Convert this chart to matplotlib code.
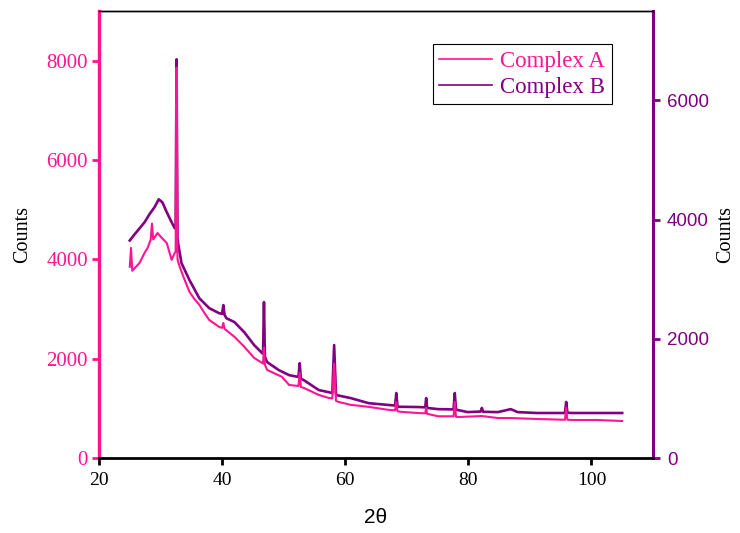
import numpy as np
import matplotlib.pyplot as plt

# Complex A (left axis)
two_theta_a = [25.0, 25.2, 25.4, 26.0, 26.6, 27.4, 27.9, 28.4, 28.6, 28.8,
               29.5, 30.2, 31.0, 31.8, 32.3, 32.45, 32.6, 32.75, 32.9, 33.4,
               33.9, 34.7, 35.5, 36.3, 37.1, 37.9, 39.5, 40.0, 40.2, 40.4,
               42.0, 43.6, 45.2, 46.5, 46.65, 46.8, 46.95, 47.3, 49.7, 50.9,
               52.4, 52.6, 52.8, 53.3, 55.7, 57.3, 57.9, 58.2, 58.5, 58.9,
               60.9, 63.8, 67.0, 68.1, 68.3, 68.5, 69.0, 71.9, 73.0, 73.15,
               73.3, 75.1, 77.6, 77.8, 78.0, 78.3, 82.2, 84.8, 86.9, 91.2,
               95.7, 95.9, 96.1, 96.9, 100.9, 105.0]
counts_a = [3850, 4230, 3770, 3850, 3930, 4130, 4230, 4400, 4720, 4400,
            4530, 4430, 4330, 3990, 4130, 4150, 7860, 4000, 3930, 3750,
            3590, 3345, 3200, 3085, 2925, 2780, 2640, 2620, 2720, 2600,
            2440, 2240, 2015, 1915, 1900, 2220, 1880, 1775, 1635, 1470,
            1450, 1715, 1430, 1410, 1270, 1210, 1200, 1900, 1150, 1130,
            1070, 1030, 970, 960, 1130, 940, 930, 905, 900, 1010,
            890, 840, 840, 1130, 830, 825, 845, 805, 805, 785,
            770, 1010, 770, 765, 765, 745]

# Complex B (right axis)
two_theta_b = [25.0, 25.8, 26.6, 27.4, 28.2, 29.0, 29.7, 30.3, 31.0, 31.8,
               32.3, 32.45, 32.6, 32.75, 32.9, 33.4, 34.7, 36.3, 37.9, 39.5,
               40.0, 40.2, 40.4, 40.7, 42.0, 43.6, 45.2, 46.5, 46.65, 46.8,
               46.95, 47.3, 49.2, 50.9, 52.4, 52.6, 52.8, 53.3, 55.7, 57.3,
               57.9, 58.2, 58.5, 58.6, 60.9, 63.8, 67.0, 68.1, 68.3, 68.5,
               71.9, 73.0, 73.15, 73.3, 75.1, 77.6, 77.8, 78.0, 78.3, 79.9,
               82.0, 82.2, 82.4, 84.8, 86.9, 88.0, 91.2, 95.7, 95.9, 96.1,
               96.9, 100.9, 105.0]
counts_b = [3650, 3755, 3855, 3955, 4090, 4205, 4340, 4290, 4125, 3955,
            3855, 3850, 6690, 3700, 3570, 3270, 2985, 2680, 2515, 2430,
            2420, 2565, 2400, 2345, 2280, 2110, 1895, 1760, 1750, 2615,
            1700, 1610, 1475, 1390, 1360, 1590, 1330, 1305, 1140, 1105,
            1090, 1895, 1070, 1055, 1005, 920, 890, 880, 1090, 860,
            855, 850, 1005, 840, 820, 815, 1090, 810, 805, 770,
            780, 840, 775, 770, 820, 770, 755, 755, 940, 760,
            755, 755, 755]

pink = '#ff1493'
purple = '#800080'
serif = 'Liberation Serif'
sans = 'Liberation Sans'

fig = plt.figure(figsize=(7.4, 5.33), dpi=100)
ax = fig.add_axes([0.1338, 0.1407, 0.7486, 0.8387])
ax2 = ax.twinx()

l1, = ax.plot(two_theta_a, counts_a, color=pink, lw=1.5, label='Complex A')
l2, = ax2.plot(two_theta_b, counts_b, color=purple, lw=1.9, label='Complex B')

ax.set_xlim(20, 110)
ax.set_ylim(0, 9000)
ax2.set_ylim(0, 7500)

ax.set_xticks([20, 40, 60, 80, 100])
ax.set_yticks([0, 2000, 4000, 6000, 8000])
ax2.set_yticks([0, 2000, 4000, 6000])

for lab in ax.get_xticklabels():
    lab.set_fontfamily(serif)
    lab.set_fontsize(14)
for lab in ax.get_yticklabels():
    lab.set_fontfamily(serif)
    lab.set_fontsize(15)
    lab.set_color(pink)
for lab in ax2.get_yticklabels():
    lab.set_fontfamily(sans)
    lab.set_fontsize(13.5)
    lab.set_color(purple)

ax.tick_params(axis='x', direction='out', length=5, width=2, colors='black', pad=5)
ax.tick_params(axis='y', direction='out', length=5, width=2, colors=pink, pad=3)
ax2.tick_params(axis='y', direction='out', length=5, width=2, colors=purple, pad=5)

ax.spines['left'].set_color(pink)
ax.spines['left'].set_linewidth(2.4)
ax.spines['bottom'].set_linewidth(2)
ax.spines['top'].set_linewidth(1)
ax.spines['right'].set_visible(False)
ax2.spines['right'].set_color(purple)
ax2.spines['right'].set_linewidth(2.2)
ax2.spines['left'].set_visible(False)
ax2.spines['bottom'].set_visible(False)
ax2.spines['top'].set_linewidth(1)

ax.set_xlabel('2θ', family=sans, fontsize=15, labelpad=14)
ax.set_ylabel('Counts', family=serif, fontsize=14.5, labelpad=10)
ax2.set_ylabel('Counts', family=serif, fontsize=14.5, labelpad=5)

leg = ax.legend([l1, l2], ['Complex A', 'Complex B'], loc='upper right',
                bbox_to_anchor=(0.926, 0.926), borderaxespad=0,
                prop={'family': serif, 'size': 16.5}, fancybox=False,
                edgecolor='black', handlelength=2.3, handletextpad=0.35,
                borderpad=0.3, labelspacing=0.2, framealpha=1)
leg.get_frame().set_linewidth(0.8)
for txt, c in zip(leg.get_texts(), [pink, purple]):
    txt.set_color(c)
for h in leg.get_lines():
    h.set_linewidth(1.2)
ax2.set_zorder(0)
ax.set_zorder(1)
ax.patch.set_visible(False)

fig.savefig('out.png', dpi=100)
